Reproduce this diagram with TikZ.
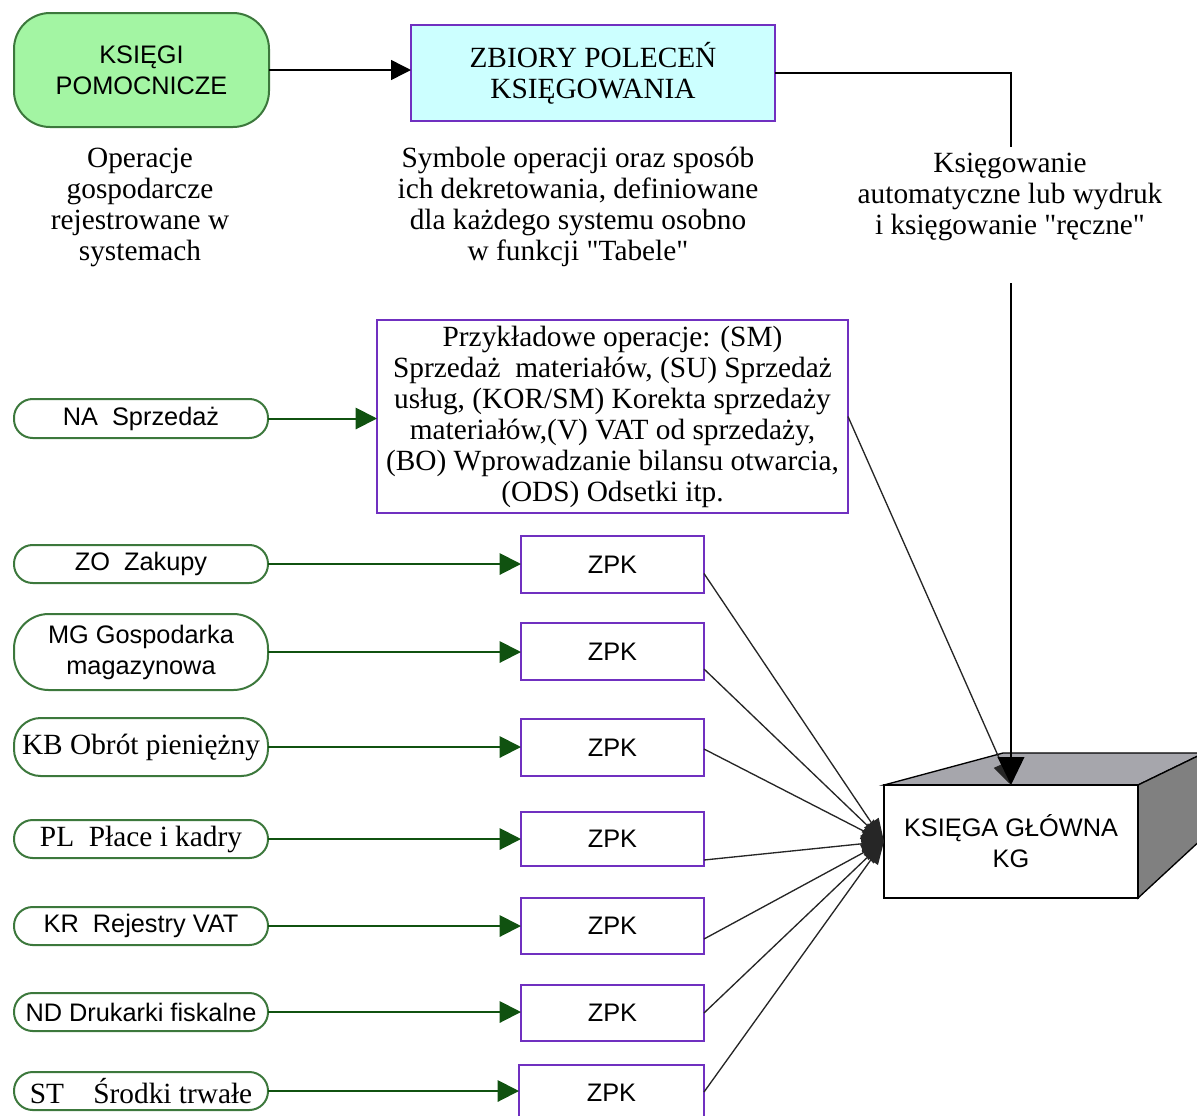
\documentclass[tikz,border=0pt]{standalone}
\usepackage{fontspec}
\setmainfont{Liberation Serif}[Ligatures=TeXOff]
\setsansfont{Liberation Sans}[Ligatures=TeXOff]
\usetikzlibrary{arrows.meta,calc}

\definecolor{leafgreen}{RGB}{163,245,163}
\definecolor{edgegreen}{RGB}{60,120,60}
\definecolor{flowgreen}{RGB}{16,82,16}
\definecolor{zpkviolet}{RGB}{112,48,192}
\definecolor{paleaqua}{RGB}{204,255,255}
\definecolor{topgray}{RGB}{166,166,172}
\definecolor{sidegray}{RGB}{128,128,128}

\tikzset{
  serif/.style={font=\fontsize{22}{23.25}\selectfont},
  sans/.style={font=\sffamily\fontsize{19}{23.25}\selectfont},
  sysbox/.style={draw=edgegreen, line width=1.5pt, fill=white, rounded corners=14pt,
    minimum width=190.5pt, inner sep=0pt, outer sep=0pt, align=center},
  zpkbox/.style={draw=zpkviolet, line width=1.3pt, fill=white, minimum width=137.25pt,
    inner sep=0pt, outer sep=0pt, sans},
  note/.style={serif, align=center, inner sep=0pt},
  feed/.style={draw=flowgreen, line width=1.5pt, -{Triangle[length=16pt,width=16pt]}},
  post/.style={draw=black, line width=1.1pt, -{Triangle[length=15pt,width=15pt]}},
  merge/.style={draw=black!85, line width=1pt, -{Triangle[length=17pt,width=13pt]}},
}

\begin{document}
\begin{tikzpicture}[x=0.75pt, y=-0.75pt]
\useasboundingbox (0,0) rectangle (1197,1115);
\clip (0,0) rectangle (1197,1115);

% top row
\node[draw=edgegreen, line width=1.5pt, fill=leafgreen, rounded corners=27pt,
  minimum width=191.25pt, minimum height=85.5pt, inner sep=0pt, outer sep=0pt,
  sans, align=center] (ks) at (141.5,70) {KSIĘGI\\POMOCNICZE};
\node[draw=zpkviolet, line width=1.3pt, fill=paleaqua, minimum width=273pt,
  minimum height=72pt, inner sep=0pt, outer sep=0pt, serif, align=center]
  (zb) at (593,73) {ZBIORY POLECEŃ\\KSIĘGOWANIA};

\node[note] (opis1) at (140,207) {Operacje\\gospodarcze\\rejestrowane w\\systemach};
\node[note] (opis2) at (578,207) {Symbole operacji oraz sposób\\ich dekretowania, definiowane\\dla każdego systemu osobno\\w funkcji "Tabele"};
\node[note] (opis3) at (1010,197) {Księgowanie\\automatyczne lub wydruk\\i księgowanie "ręczne"};

\coordinate (bend) at (1011,73);
\coordinate (gapA) at (1011,147);
\coordinate (gapB) at (1011,283);

% example operations
\node[draw=zpkviolet, line width=1.3pt, fill=white, minimum width=353.25pt,
  minimum height=144.75pt, inner sep=0pt, outer sep=0pt, serif, align=center]
  (ex) at (612.5,416.5) {Przykładowe operacje: (SM)\\Sprzedaż\ \ materiałów, (SU) Sprzedaż\\usług, (KOR/SM) Korekta sprzedaży\\materiałów,(V) VAT od sprzedaży,\\(BO) Wprowadzanie bilansu otwarcia,\\(ODS) Odsetki itp.};

% cube of the general ledger
\filldraw[fill=topgray, draw=black, line width=1pt]
  (884,785) -- (1003,753) -- (1204,753) -- (1138,785) -- cycle;
\filldraw[fill=sidegray, draw=black, line width=1pt]
  (1138,785) -- (1204,753) -- (1204,837) -- (1138,898) -- cycle;
\node[draw=black, line width=1.1pt, fill=white, minimum width=190.5pt,
  minimum height=84.75pt, inner sep=0pt, outer sep=0pt, sans, align=center]
  (kg) at (1011,841.5) {KSIĘGA GŁÓWNA\\KG};

% subsystems
\node[sysbox, minimum height=29.25pt, sans] (na) at (141,418.5) {NA\ \ Sprzedaż};
\node[sysbox, minimum height=28.5pt, sans] (zo) at (141,564) {ZO\ \ Zakupy};
\node[sysbox, minimum height=57pt, rounded corners=26pt, sans] (mg) at (141,652) {MG Gospodarka\\magazynowa};
\node[sysbox, minimum height=43.5pt, rounded corners=20pt, serif] (kb) at (141,747) {KB Obrót pieniężny};
\node[sysbox, minimum height=28.5pt, serif] (pl) at (141,839) {PL\ \ Płace i kadry};
\node[sysbox, minimum height=28.5pt, sans] (kr) at (141,926) {KR\ \ Rejestry VAT};
\node[sysbox, minimum height=28.5pt, sans] (nd) at (141,1012) {ND Drukarki fiskalne};
\node[sysbox, minimum height=28.5pt, serif] (st) at (141,1091) {ST\ \ \ \ Środki trwałe};

% posting sets
\node[zpkbox, minimum height=42.75pt] (z1) at (612.5,564.5) {ZPK};
\node[zpkbox, minimum height=42.75pt] (z2) at (612.5,651.5) {ZPK};
\node[zpkbox, minimum height=42.75pt] (z3) at (612.5,747.5) {ZPK};
\node[zpkbox, minimum height=40.5pt] (z4) at (612.5,839) {ZPK};
\node[zpkbox, minimum height=42pt] (z5) at (612.5,926) {ZPK};
\node[zpkbox, minimum height=42pt] (z6) at (612.5,1013) {ZPK};
\node[zpkbox, minimum height=42pt, minimum width=138.75pt] (z7) at (611.5,1093) {ZPK};

% connectors
\draw[post] (ks.east) -- (ks.east -| zb.west);
\draw[line width=1.1pt] (zb.east |- bend) -- (bend) -- (gapA);
\draw[merge] (ex.east) -- (kg.north);
\draw[post, -{Triangle[length=21pt,width=20pt]}] (gapB) -- (kg.north);

\draw[feed] (na.east) -- (na.east -| ex.west);
\draw[feed] (zo.east) -- (zo.east -| z1.west);
\draw[feed] (mg.east) -- (mg.east -| z2.west);
\draw[feed] (kb.east) -- (kb.east -| z3.west);
\draw[feed] (pl.east) -- (pl.east -| z4.west);
\draw[feed] (kr.east) -- (kr.east -| z5.west);
\draw[feed] (nd.east) -- (nd.east -| z6.west);
\draw[feed] (st.east) -- (st.east -| z7.west);

\draw[merge] ($(z1.east)+(0,9)$) -- (kg.west);
\draw[merge] ($(z2.east)+(0,17.5)$) -- (kg.west);
\draw[merge] ($(z3.east)+(0,1.5)$) -- (kg.west);
\draw[merge] ($(z4.east)+(0,21)$) -- (kg.west);
\draw[merge] ($(z5.east)+(0,13)$) -- (kg.west);
\draw[merge] (z6.east) -- (kg.west);
\draw[merge] ($(z7.east)+(0,-1)$) -- (kg.west);
\end{tikzpicture}
\end{document}
